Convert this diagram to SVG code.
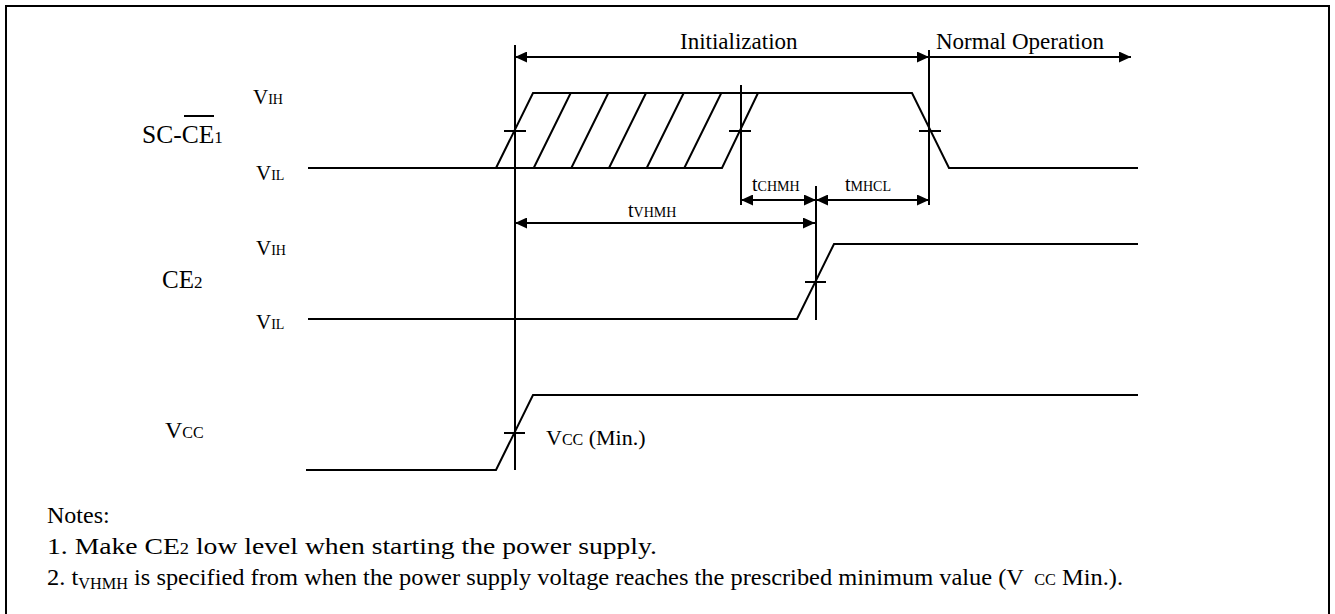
<svg xmlns="http://www.w3.org/2000/svg" width="1335" height="614" viewBox="0 0 1335 614">
<style>
.w{stroke:#000;stroke-width:2;fill:none;stroke-linejoin:miter}
.t{font-family:"Liberation Serif","Times New Roman",serif;fill:#000}
.s{font-size:14px}
</style>
<defs>
<marker id="ah" markerWidth="12" markerHeight="11" refX="12" refY="5.5" orient="auto-start-reverse" markerUnits="userSpaceOnUse"><path d="M0,0 L12,5.5 L0,11 z" fill="#000"/></marker>
</defs>
<rect x="6" y="6" width="1323" height="620" class="w"/>
<g id="sc-ce1">
<text class="t" x="142" y="143" font-size="25.5">SC-CE<tspan font-size="17">1</tspan></text>
<line x1="184" y1="116" x2="214" y2="116" class="w"/>
<text class="t" x="253" y="104" font-size="21">V<tspan class="s">IH</tspan></text>
<text class="t" x="256" y="180" font-size="21">V<tspan class="s">IL</tspan></text>
<polyline class="w" points="308,168 722,168 758,93"/>
<polyline class="w" points="496,168 533,93 912,93 949,168 1138,168"/>
<path class="w" d="M533.7,168 L570.7,93 M571.3,168 L608.3,93 M609,168 L646,93 M646.7,168 L683.7,93 M684.3,168 L721.3,93"/>
<path class="w" d="M504,131 H526 M729,131 H751 M919,131 H941"/>
</g>
<g id="ce2">
<text class="t" x="162" y="288" font-size="25">CE<tspan font-size="17">2</tspan></text>
<text class="t" x="256" y="255" font-size="21">V<tspan class="s">IH</tspan></text>
<text class="t" x="256" y="329" font-size="21">V<tspan class="s">IL</tspan></text>
<polyline class="w" points="308,319 797,319 834,244 1138,244"/>
<path class="w" d="M805,282 H826"/>
</g>
<g id="vcc">
<text class="t" x="165" y="438" font-size="24">V<tspan font-size="16">CC</tspan></text>
<polyline class="w" points="306,470 496,470 533,395 1138,395"/>
<path class="w" d="M504,433 H525"/>
<text class="t" x="546" y="445" font-size="22">V<tspan font-size="16">CC</tspan> (Min.)</text>
</g>
<g id="connectors">
<path class="w" d="M515,45 V470 M929,50 V205 M741,85 V205 M816,186 V320"/>
<line class="w" x1="515" y1="57" x2="929" y2="57" marker-start="url(#ah)" marker-end="url(#ah)"/>
<line class="w" x1="929" y1="57" x2="1131" y2="57" marker-end="url(#ah)"/>
<line class="w" x1="741" y1="200" x2="816" y2="200" marker-start="url(#ah)" marker-end="url(#ah)"/>
<line class="w" x1="816" y1="200" x2="929" y2="200" marker-start="url(#ah)" marker-end="url(#ah)"/>
<line class="w" x1="515" y1="223" x2="815" y2="223" marker-start="url(#ah)" marker-end="url(#ah)"/>
</g>
<g id="labels">
<text class="t" x="680" y="49" font-size="23">Initialization</text>
<text class="t" x="936" y="49" font-size="23">Normal Operation</text>
<text class="t" x="752" y="191" font-size="20">t<tspan class="s">CHMH</tspan></text>
<text class="t" x="845" y="191" font-size="20">t<tspan class="s">MHCL</tspan></text>
<text class="t" x="628" y="217" font-size="20">t<tspan class="s">VHMH</tspan></text>
</g>
<g id="notes">
<text class="t" x="47" y="523" font-size="24">Notes:</text>
<text class="t" x="47" y="554" font-size="24" textLength="610" lengthAdjust="spacingAndGlyphs">1. Make CE<tspan font-size="16">2</tspan> low level when starting the power supply.</text>
<text class="t" x="47" y="585" font-size="24" textLength="1076" lengthAdjust="spacingAndGlyphs">2. t<tspan font-size="16" dy="4">VHMH</tspan><tspan dy="-4"> is specified from when the power supply voltage reaches the prescribed minimum value (V</tspan><tspan font-size="16" dx="10">CC</tspan> Min.).</text>
</g>
</svg>
